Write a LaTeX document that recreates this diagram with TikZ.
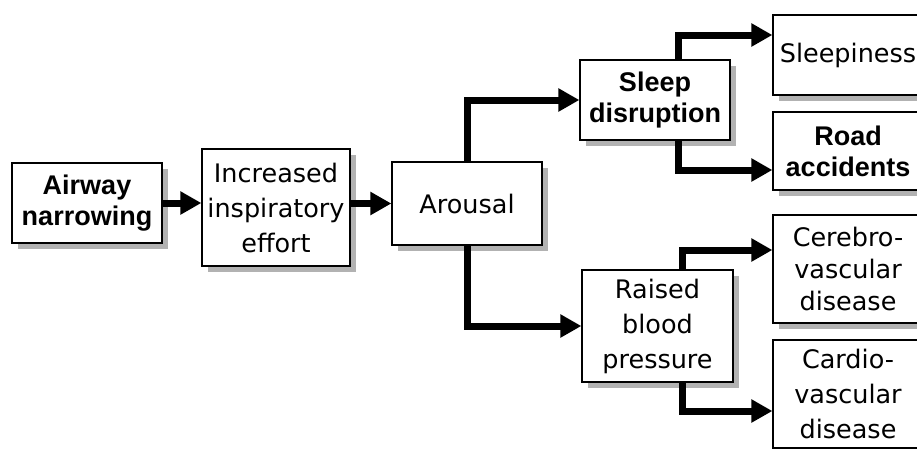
\documentclass[tikz,border=0pt]{standalone}
\usepackage{fontspec}
\setmainfont{DejaVu Sans}
\newfontfamily\boldfam{Liberation Sans}
\usetikzlibrary{arrows.meta,shadows}

\begin{document}
\begin{tikzpicture}[x=1pt,y=-1pt,
		box/.style={draw,line width=1.2pt,fill=white,align=center,inner sep=0pt,
			drop shadow={shadow xshift=6pt,shadow yshift=-6pt,fill=gray!60,opacity=1},
			font=\fontsize{25.5}{35}\selectfont},
		boldbox/.style={box,font=\boldfam\bfseries\fontsize{27}{31}\selectfont},
		flow/.style={line width=7pt,line join=miter,-{Triangle[width=22pt,length=21pt]}}]
	% rahmen
	\useasboundingbox (0,0) rectangle (917,448);
	\clip (0,0) rectangle (917,448);
	
	% linke kette
	\node[boldbox,minimum width=150pt,minimum height=80pt] (airway) at (87,203) {Airway\\narrowing};
	\node[box,minimum width=148pt,minimum height=117pt] (effort) at (276,207.5) {Increased\\inspiratory\\effort};
	\node[box,minimum width=150pt,minimum height=83pt] (arousal) at (467,203.5) {Arousal};
	
	% mitte
	\node[boldbox,minimum width=150pt,minimum height=80pt] (sleep) at (655,100) {Sleep\\disruption};
	\node[box,minimum width=151pt,minimum height=112pt] (bp) at (657.5,326) {Raised\\blood\\pressure};
	
	% rechte spalte
	\node[box,minimum width=150pt,minimum height=80pt] (sleepy) at (848,55) {Sleepiness};
	\node[boldbox,minimum width=150pt,minimum height=78pt] (road) at (848,151) {Road\\accidents};
	\node[box,minimum width=150pt,minimum height=108pt,font=\fontsize{25.5}{32}\selectfont] (cerebro) at (848,269) {Cerebro-\\vascular\\disease};
	\node[box,minimum width=150pt,minimum height=108pt] (cardio) at (848,394) {Cardio-\\vascular\\disease};
	
	% pfeile
	\draw[flow] (airway.east) -- (airway.east -| effort.west);
	\draw[flow] (effort.east |- arousal.west) -- (arousal.west);
	\draw[flow] (arousal.north) |- (sleep.west);
	\draw[flow] (arousal.south) |- (bp.west);
	\draw[flow] ([xshift=23pt]sleep.north) |- ([yshift=20pt]sleepy.west);
	\draw[flow] ([xshift=23pt]sleep.south) |- ([yshift=-19pt]road.west);
	\draw[flow] ([xshift=25pt]bp.north) |- ([yshift=19pt]cerebro.west);
	\draw[flow] ([xshift=25pt]bp.south) |- ([yshift=-17pt]cardio.west);
	
\end{tikzpicture}
\end{document}
